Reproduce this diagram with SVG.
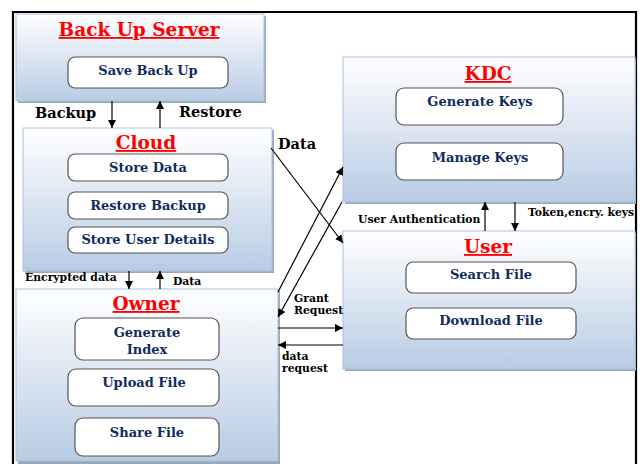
<svg xmlns="http://www.w3.org/2000/svg" width="640" height="464" viewBox="0 0 640 464">
<defs>
<linearGradient id="pg" x1="0" y1="0" x2="0" y2="1">
<stop offset="0" stop-color="#ffffff"/>
<stop offset="0.12" stop-color="#f7f9fc"/>
<stop offset="1" stop-color="#b8cce4"/>
</linearGradient>
<marker id="ah" viewBox="0 0 10 10" refX="10" refY="5" markerWidth="8" markerHeight="8" markerUnits="userSpaceOnUse" orient="auto">
<path d="M0,0 L10,5 L0,10 z" fill="#000"/>
</marker>
</defs>
<style>
.panel{fill:url(#pg);stroke:#a9c1df;stroke-width:1}
.shadow{fill:#9aa8b8}
.box{fill:#fff;stroke:#555;stroke-width:1.2}
.title{font-family:"DejaVu Serif","Liberation Serif",serif;font-weight:bold;font-size:18.5px;fill:#ff0000;text-anchor:middle;text-decoration:underline}
.item{font-family:"DejaVu Serif","Liberation Serif",serif;font-weight:bold;font-size:13px;fill:#0f2c5e;text-anchor:middle}
.lbl{font-family:"DejaVu Serif","Liberation Serif",serif;font-weight:bold;font-size:14.5px;fill:#000}
.sm{font-family:"DejaVu Serif","Liberation Serif",serif;font-weight:bold;font-size:10.8px;fill:#000}
.conn{stroke:#000;stroke-width:1.2;fill:none;marker-end:url(#ah)}
</style>
<rect width="640" height="464" fill="#fff"/>
<path d="M13,470 V12 H636 V470" fill="none" stroke="#000" stroke-width="2.2"/>

<g id="backup-server">
<rect class="shadow" x="18" y="16" width="248" height="87"/>
<rect class="panel" x="16" y="14" width="248" height="87"/>
<text class="title" x="139" y="36">Back Up Server</text>
<rect class="box" x="68" y="57" width="160" height="31" rx="7"/>
<text class="item" x="148" y="75">Save Back Up</text>
</g>

<g id="cloud">
<rect class="shadow" x="25" y="130" width="249" height="143"/>
<rect class="panel" x="23" y="128" width="249" height="143"/>
<text class="title" x="146" y="149">Cloud</text>
<rect class="box" x="68" y="154" width="160" height="27" rx="7"/>
<text class="item" x="148" y="172">Store Data</text>
<rect class="box" x="68" y="192" width="160" height="27" rx="7"/>
<text class="item" x="148" y="210">Restore Backup</text>
<rect class="box" x="68" y="227" width="160" height="26" rx="7"/>
<text class="item" x="148" y="244">Store User Details</text>
</g>

<g id="owner">
<rect class="shadow" x="18" y="291" width="262" height="173"/>
<rect class="panel" x="16" y="289" width="262" height="172"/>
<text class="title" x="146" y="310">Owner</text>
<rect class="box" x="75" y="318" width="144" height="42" rx="8"/>
<text class="item" x="147" y="337">Generate</text>
<text class="item" x="147" y="354">Index</text>
<rect class="box" x="68" y="369" width="151" height="37" rx="8"/>
<text class="item" x="144" y="387">Upload File</text>
<rect class="box" x="75" y="418" width="144" height="38" rx="8"/>
<text class="item" x="147" y="437">Share File</text>
</g>

<g id="kdc">
<rect class="shadow" x="345" y="59" width="291" height="145"/>
<rect class="panel" x="343" y="57" width="292" height="145"/>
<text class="title" x="488" y="80">KDC</text>
<rect class="box" x="396" y="88" width="167" height="37" rx="8"/>
<text class="item" x="480" y="106">Generate Keys</text>
<rect class="box" x="396" y="143" width="167" height="37" rx="8"/>
<text class="item" x="480" y="162">Manage Keys</text>
</g>

<g id="user">
<rect class="shadow" x="345" y="233" width="291" height="138"/>
<rect class="panel" x="343" y="231" width="292" height="138"/>
<text class="title" x="488" y="253">User</text>
<rect class="box" x="406" y="262" width="170" height="31" rx="7"/>
<text class="item" x="491" y="279">Search File</text>
<rect class="box" x="406" y="308" width="170" height="31" rx="7"/>
<text class="item" x="491" y="325">Download File</text>
</g>

<g id="connectors">
<line class="conn" x1="112" y1="101" x2="112" y2="128"/>
<line class="conn" x1="160" y1="128" x2="160" y2="101"/>
<line class="conn" x1="129" y1="271" x2="129" y2="289"/>
<line class="conn" x1="160" y1="289" x2="160" y2="271"/>
<line class="conn" x1="271" y1="148" x2="343" y2="243"/>
<line class="conn" x1="278" y1="292" x2="343" y2="167"/>
<line class="conn" x1="342" y1="202" x2="278" y2="317"/>
<line class="conn" x1="278" y1="328" x2="343" y2="328"/>
<line class="conn" x1="343" y1="345" x2="278" y2="345"/>
<line class="conn" x1="485" y1="231" x2="485" y2="202"/>
<line class="conn" x1="515" y1="202" x2="515" y2="231"/>
</g>

<g id="labels">
<text class="lbl" x="35" y="118">Backup</text>
<text class="lbl" x="179" y="117">Restore</text>
<text class="sm" x="25" y="281">Encrypted data</text>
<text class="sm" x="173" y="285">Data</text>
<text class="lbl" x="278" y="149">Data</text>
<text class="sm" x="294" y="302">Grant</text>
<text class="sm" x="294" y="314">Request</text>
<text class="sm" x="282" y="360">data</text>
<text class="sm" x="282" y="372">request</text>
<text class="sm" x="358" y="223">User Authentication</text>
<text class="sm" x="528" y="216">Token,encry. keys</text>
</g>
</svg>
